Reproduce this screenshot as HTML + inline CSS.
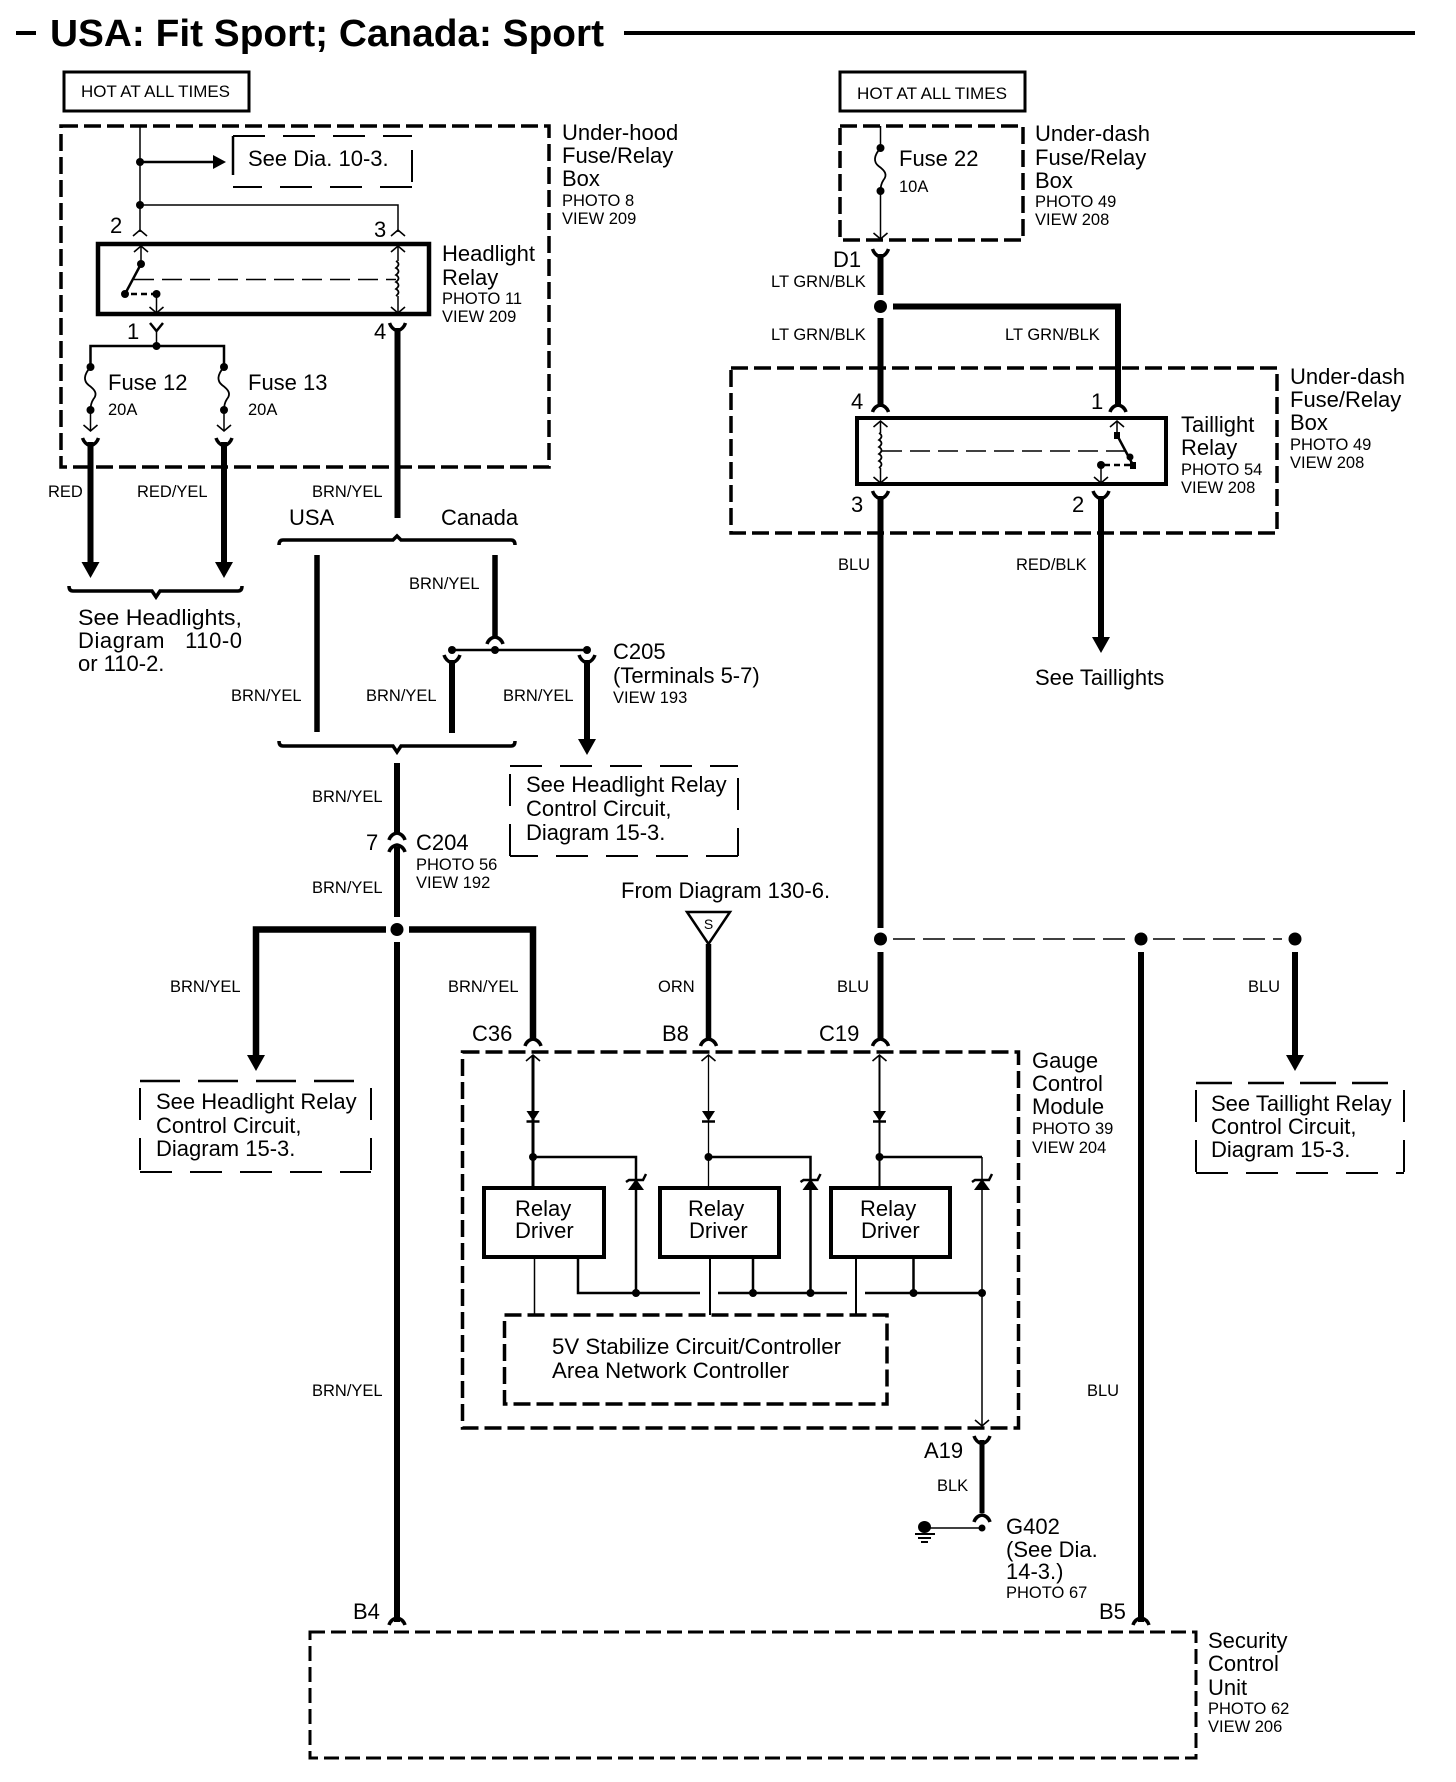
<!DOCTYPE html>
<html><head><meta charset="utf-8"><style>
html,body{margin:0;padding:0;background:#fff}
svg{display:block}
text{font-family:"Liberation Sans",sans-serif;fill:#000}
.b{font-size:22px}.s{font-size:16.5px}.h{font-size:17px}
.w{fill:none;stroke:#000;stroke-width:6}
.m{fill:none;stroke:#000;stroke-width:2.5}
.n{fill:none;stroke:#000;stroke-width:1.5}
.d{fill:none;stroke:#000;stroke-width:3.5;stroke-dasharray:17 6}
.l{fill:none;stroke:#000;stroke-width:2;stroke-dasharray:32 18}
</style></head><body>
<svg xmlns="http://www.w3.org/2000/svg" width="1456" height="1782" viewBox="0 0 1456 1782">
<defs>
<path id="cu" d="M-7,6 L0,0 L7,6" fill="none" stroke="#000" stroke-width="1.6"/>
<path id="cd" d="M-7,-6 L0,0 L7,-6" fill="none" stroke="#000" stroke-width="1.6"/>
<path id="tu" d="M-8,7 Q-6,1 0,0 Q6,1 8,7" fill="none" stroke="#000" stroke-width="3.5"/>
<path id="td" d="M-8,0 Q-6,6 0,8 Q6,6 8,0" fill="none" stroke="#000" stroke-width="3.5"/>
<path id="ah" d="M-9,-16 L9,-16 L0,0 Z" fill="#000"/>
<path id="fuse" d="M0,0 C-7,8 -7,14 -2,18 C5,23 7,27 3,32 C1,35 0,38 0,43" fill="none" stroke="#000" stroke-width="1.8"/>
<path id="coil" d="M0,0 q5,3 0,7 q5,3 0,7 q5,3 0,7 q5,3 0,7 q5,3 0,7" fill="none" stroke="#000" stroke-width="1.8"/>
<g id="diode"><path d="M-6.500,-10 L6.500,-10 L0,0 Z" fill="#000"/><path d="M-6.500,0.5 H6.500" stroke="#000" stroke-width="2.5"/></g>
<g id="zener"><path d="M-8,10 L8,10 L0,-1 Z" fill="#000"/><path d="M-10,2 L-7,0 H7 L10,-6" fill="none" stroke="#000" stroke-width="2.500"/></g>
</defs>

<!-- Title -->
<path d="M16,33 H36" stroke="#000" stroke-width="4"/>
<text x="50" y="46" font-size="38" font-weight="bold" textLength="554" lengthAdjust="spacingAndGlyphs">USA: Fit Sport; Canada: Sport</text>
<path d="M624,33 H1415" stroke="#000" stroke-width="4"/>

<!-- Top-left -->
<rect x="64" y="72" width="185" height="39" fill="none" stroke="#000" stroke-width="3"/>
<text class="h" x="81" y="97" textLength="149" lengthAdjust="spacingAndGlyphs">HOT AT ALL TIMES</text>
<rect class="d" x="61" y="126" width="488" height="341"/>
<path class="n" d="M140,126 V232"/>
<circle cx="140" cy="162" r="4"/><circle cx="140" cy="205" r="4"/>
<path class="m" d="M140,162 H215"/><path d="M213,155 L226,162 L213,169 Z"/>
<path class="m" d="M233,136 V175"/>
<path class="l" d="M233,136 H412 M412,150 V187 M412,187 H233"/>
<text class="b" x="248" y="166">See Dia. 10-3.</text>
<path class="n" d="M140,205 H398 V232"/>
<use href="#cu" x="140" y="230"/><use href="#cu" x="398" y="230"/>
<text x="110" y="233" font-size="22">2</text><text x="374" y="237" font-size="22">3</text>

<rect x="98" y="244" width="331" height="70" fill="none" stroke="#000" stroke-width="4.5"/>
<use href="#cu" x="141" y="246"/><use href="#cu" x="398" y="246"/>
<path class="n" d="M141,246 V264"/><circle cx="141" cy="264" r="4"/>
<path class="m" d="M141,264 L125,294"/><circle cx="125" cy="294" r="4"/>
<path class="m" stroke-dasharray="6 4" d="M131,294 H156"/><circle cx="156.500" cy="294" r="4"/>
<path class="n" d="M156.500,294 V313"/><use href="#cd" x="156.500" y="313"/>
<path class="n" stroke-dasharray="20 8" d="M134,279.500 H396"/>
<path class="n" d="M398,246 V261 M398,296 V313"/>
<use href="#coil" x="396" y="261"/><use href="#cd" x="398" y="313"/>
<text x="127" y="339" font-size="22">1</text><text x="374" y="339" font-size="22">4</text>
<path class="m" d="M150,323 L156.500,331 L163,323"/>
<path class="n" d="M156.500,331 V346"/>
<circle cx="156.500" cy="346" r="4"/>
<path class="m" d="M90.500,367 V346 H224 V367"/>
<circle cx="90.500" cy="367" r="4"/><circle cx="90.500" cy="410" r="4"/>
<circle cx="224" cy="367" r="4"/><circle cx="224" cy="410" r="4"/>
<use href="#fuse" x="90.500" y="367"/><use href="#fuse" x="224" y="367"/>
<path class="n" d="M90.500,410 V430 M224,410 V430"/>
<use href="#cd" x="90.500" y="431"/><use href="#cd" x="224" y="431"/>
<text class="b" x="108" y="390">Fuse 12</text><text class="b" x="248" y="390">Fuse 13</text>
<text class="s" x="108" y="415">20A</text><text class="s" x="248" y="415">20A</text>
<use href="#td" x="90.500" y="438"/><use href="#td" x="224" y="438"/>
<use href="#td" x="397.500" y="323"/>
<path class="w" d="M90.500,442 V565 M224,442 V565 M397.500,328 V518"/>
<use href="#ah" x="90.500" y="578"/><use href="#ah" x="224" y="578"/>
<text class="s" x="48" y="497">RED</text><text class="s" x="137" y="497">RED/YEL</text><text class="s" x="312" y="497">BRN/YEL</text>
<text class="b" x="289" y="525">USA</text><text class="b" x="441" y="525">Canada</text>
<text class="b" x="562" y="140">Under-hood</text><text class="b" x="562" y="163">Fuse/Relay</text><text class="b" x="562" y="186">Box</text>
<text class="s" x="562" y="206">PHOTO 8</text><text class="s" x="562" y="224">VIEW 209</text>
<text class="b" x="442" y="261">Headlight</text><text class="b" x="442" y="285">Relay</text>
<text class="s" x="442" y="304">PHOTO 11</text><text class="s" x="442" y="322">VIEW 209</text>

<!-- braces -->
<path fill="none" stroke="#000" stroke-width="3.5" d="M279,545 Q279,540 283,540 H393 L397,536 L401,540 H511 Q515,540 515,545"/>
<path fill="none" stroke="#000" stroke-width="3.500" d="M69,586 Q69,591 73,591 H152 L156,597 L160,591 H238 Q242,591 242,586"/>
<path fill="none" stroke="#000" stroke-width="3.500" d="M279,741 Q279,746 283,746 H393 L397,752 L401,746 H511 Q515,746 515,741"/>
<text class="b" x="78" y="625" textLength="164" lengthAdjust="spacingAndGlyphs">See Headlights,</text><text class="b" x="78" y="648" xml:space="preserve" textLength="164" lengthAdjust="spacing">Diagram   110-0</text><text class="b" x="78" y="671">or 110-2.</text>

<!-- USA/Canada -->
<path d="M317,555 V732 M495,555 V636" fill="none" stroke="#000" stroke-width="5.500"/>
<use href="#tu" x="495" y="637"/>
<path class="m" d="M452,650 H587"/>
<circle cx="452" cy="650" r="4"/><circle cx="495" cy="650" r="4"/><circle cx="587" cy="650" r="4"/>
<use href="#td" x="452" y="655"/><use href="#td" x="587" y="655"/>
<path class="w" d="M452,660 V733 M587,660 V742"/>
<use href="#ah" x="587" y="755"/>
<text class="s" x="409" y="589">BRN/YEL</text>
<text class="s" x="231" y="701">BRN/YEL</text><text class="s" x="366" y="701">BRN/YEL</text><text class="s" x="503" y="701">BRN/YEL</text>
<text class="b" x="613" y="659">C205</text><text class="b" x="613" y="683">(Terminals 5-7)</text><text class="s" x="613" y="703">VIEW 193</text>

<!-- See Headlight Relay boxes -->
<path class="l" d="M510,766 H738 M738,778 V856 M738,856 H510 M510,856 V773"/>
<text class="b" x="526" y="792">See Headlight Relay</text><text class="b" x="526" y="816">Control Circuit,</text><text class="b" x="526" y="840">Diagram 15-3.</text>
<path d="M140,1081 H371" fill="none" stroke="#000" stroke-width="2.500" stroke-dasharray="40 18"/>
<path class="l" d="M140,1172 H371 M371,1088 V1172 M140,1088 V1172"/>
<text class="b" x="156" y="1109">See Headlight Relay</text><text class="b" x="156" y="1133">Control Circuit,</text><text class="b" x="156" y="1156">Diagram 15-3.</text>

<!-- C204 -->
<path class="w" d="M397,763 V833 M397,847 V917 M397,942 V1622"/>
<use href="#tu" x="397" y="833"/><use href="#tu" x="397" y="845"/>
<text x="366" y="850" font-size="22">7</text>
<text class="b" x="416" y="850">C204</text><text class="s" x="416" y="870">PHOTO 56</text><text class="s" x="416" y="888">VIEW 192</text>
<text class="s" x="312" y="802">BRN/YEL</text><text class="s" x="312" y="893">BRN/YEL</text>
<circle cx="397" cy="929.500" r="6.500"/>
<path stroke="#000" stroke-width="6.500" fill="none" d="M386,929.500 H256 V1058 M409,929.500 H533 V1040"/>
<use href="#ah" x="256" y="1071"/><use href="#tu" x="533" y="1039"/>
<text class="s" x="170" y="992">BRN/YEL</text><text class="s" x="448" y="992">BRN/YEL</text><text class="s" x="658" y="992">ORN</text>
<text class="s" x="837" y="992">BLU</text><text class="s" x="1248" y="992">BLU</text>
<text class="b" x="472" y="1041">C36</text><text class="b" x="662" y="1041">B8</text><text class="b" x="819" y="1041">C19</text>

<!-- From Diagram -->
<text class="b" x="621" y="898">From Diagram 130-6.</text>
<path d="M687,912 H730 L708.500,944 Z" fill="#fff" stroke="#000" stroke-width="2.500"/>
<text x="708.500" y="929" font-size="14" text-anchor="middle">S</text>
<path stroke="#000" stroke-width="5.500" fill="none" d="M708.500,944 V1040"/>
<use href="#tu" x="708.500" y="1039"/>

<!-- Gauge -->
<rect class="d" x="462.500" y="1052" width="556" height="376"/>
<use href="#cu" x="533" y="1055"/><use href="#cu" x="708.500" y="1055"/><use href="#cu" x="879.500" y="1055"/>
<path stroke="#000" stroke-width="3" fill="none" d="M533,1055 V1187"/>
<path stroke="#000" stroke-width="1.300" fill="none" d="M708.500,1055 V1187"/>
<path stroke="#000" stroke-width="2" fill="none" d="M879.500,1055 V1187"/>
<use href="#diode" x="533" y="1121"/><use href="#diode" x="708.500" y="1121"/><use href="#diode" x="879.500" y="1121"/>
<circle cx="533" cy="1157" r="4"/><circle cx="708.500" cy="1157" r="4"/><circle cx="879.500" cy="1157" r="4"/>
<path class="m" d="M533,1157 H636 V1293 M708.500,1157 H810.500 V1293 M879.500,1157 H982"/>
<path class="n" d="M982,1157 V1426"/>
<use href="#zener" x="636" y="1180"/><use href="#zener" x="810.500" y="1180"/><use href="#zener" x="982" y="1180"/>
<rect x="484" y="1188" width="120" height="69" fill="#fff" stroke="#000" stroke-width="4"/>
<rect x="660" y="1188" width="119" height="69" fill="#fff" stroke="#000" stroke-width="4"/>
<rect x="831" y="1188" width="119" height="69" fill="#fff" stroke="#000" stroke-width="4"/>
<text class="b" x="515" y="1216">Relay</text><text class="b" x="515" y="1238">Driver</text>
<text class="b" x="688" y="1216">Relay</text><text class="b" x="689" y="1238">Driver</text>
<text class="b" x="860" y="1216">Relay</text><text class="b" x="861" y="1238">Driver</text>
<path class="n" d="M534.500,1257 V1315"/>
<path class="m" d="M578,1257 V1293 H700 M718,1293 H847 M865,1293 H982 M753,1257 V1293 M913.500,1257 V1293"/>
<path stroke="#000" stroke-width="2" fill="none" d="M710,1257 V1315 M856,1257 V1315"/>
<circle cx="636" cy="1293" r="4"/><circle cx="753" cy="1293" r="4"/><circle cx="810.500" cy="1293" r="4"/><circle cx="913.500" cy="1293" r="4"/><circle cx="982" cy="1293" r="4"/>
<use href="#cd" x="982" y="1426"/>
<rect class="d" x="504.500" y="1315" width="382.500" height="89"/>
<text class="b" x="552" y="1354" textLength="289" lengthAdjust="spacingAndGlyphs">5V Stabilize Circuit/Controller</text>
<text class="b" x="552" y="1378" textLength="237" lengthAdjust="spacingAndGlyphs">Area Network Controller</text>
<text class="b" x="1032" y="1068">Gauge</text><text class="b" x="1032" y="1091">Control</text><text class="b" x="1032" y="1114">Module</text>
<text class="s" x="1032" y="1134">PHOTO 39</text><text class="s" x="1032" y="1153">VIEW 204</text>

<!-- A19/G402 -->
<use href="#td" x="982" y="1436"/>
<path stroke="#000" stroke-width="5" fill="none" d="M982,1440 V1513"/>
<use href="#tu" x="982" y="1515"/>
<circle cx="982" cy="1528" r="3.500"/>
<path class="n" d="M925,1528 H982"/>
<ellipse cx="924.500" cy="1527" rx="6.500" ry="6"/>
<path stroke="#000" stroke-width="2" fill="none" d="M915,1534 H935 M918,1538 H931 M921,1542 H928"/>
<text class="b" x="924" y="1458">A19</text><text class="s" x="937" y="1491">BLK</text>
<text class="b" x="1006" y="1534">G402</text><text class="b" x="1006" y="1557">(See Dia.</text><text class="b" x="1006" y="1579">14-3.)</text><text class="s" x="1006" y="1598">PHOTO 67</text>

<!-- Security -->
<text class="b" x="353" y="1619">B4</text><text class="b" x="1099" y="1619">B5</text>
<use href="#tu" x="397" y="1618"/><use href="#tu" x="1141" y="1618"/>
<rect fill="none" stroke="#000" stroke-width="3" stroke-dasharray="15 6" x="310" y="1632" width="886" height="126"/>
<text class="b" x="1208" y="1648">Security</text><text class="b" x="1208" y="1671">Control</text><text class="b" x="1208" y="1695">Unit</text>
<text class="s" x="1208" y="1714">PHOTO 62</text><text class="s" x="1208" y="1732">VIEW 206</text>
<text class="s" x="312" y="1396">BRN/YEL</text><text class="s" x="1087" y="1396">BLU</text>

<!-- Top-right -->
<rect x="840" y="72" width="185" height="39" fill="none" stroke="#000" stroke-width="3"/>
<text class="h" x="857" y="99" textLength="150" lengthAdjust="spacingAndGlyphs">HOT AT ALL TIMES</text>
<rect class="d" x="840" y="126" width="183" height="114"/>
<path class="n" d="M880.500,126 V148 M880.500,191 V238"/>
<circle cx="880.500" cy="148" r="4"/><circle cx="880.500" cy="191" r="4"/>
<use href="#fuse" x="880.500" y="148"/><use href="#cd" x="880.500" y="239"/>
<text class="b" x="899" y="166">Fuse 22</text><text class="s" x="899" y="192">10A</text>
<text class="b" x="1035" y="141">Under-dash</text><text class="b" x="1035" y="165">Fuse/Relay</text><text class="b" x="1035" y="188">Box</text>
<text class="s" x="1035" y="207">PHOTO 49</text><text class="s" x="1035" y="225">VIEW 208</text>
<use href="#td" x="880.500" y="249"/>
<path class="w" d="M880.500,254 V295 M880.500,318 V407 M893,306.500 H1118 V407"/>
<text x="833" y="267" font-size="22">D1</text>
<text class="s" x="771" y="287">LT GRN/BLK</text><text class="s" x="771" y="340">LT GRN/BLK</text><text class="s" x="1005" y="340">LT GRN/BLK</text>
<circle cx="880.500" cy="306.500" r="6.500"/>
<rect class="d" x="731" y="368" width="546" height="165"/>
<use href="#tu" x="880.500" y="405"/><use href="#tu" x="1118" y="405"/>
<text x="851" y="409" font-size="22">4</text><text x="1091" y="409" font-size="22">1</text>
<rect x="857" y="418" width="309" height="66" fill="#fff" stroke="#000" stroke-width="4"/>
<use href="#cu" x="880.500" y="421"/><use href="#cu" x="1117" y="421"/><use href="#cd" x="880.500" y="483"/><use href="#cd" x="1101" y="483"/>
<path class="n" d="M880.500,421 V433 M880.500,468 V483 M1117,421 V435 M1101,465 V483"/>
<use href="#coil" x="879" y="433"/>
<path class="n" stroke-dasharray="20 8" d="M882,451 H1130"/>
<rect x="1114" y="432" width="6" height="7"/>
<path class="m" d="M1117,435 L1133,465"/>
<circle cx="1130" cy="457" r="3.500"/><rect x="1130" y="462" width="6" height="7"/>
<path class="m" stroke-dasharray="6 4" d="M1130,465 H1102"/><circle cx="1101" cy="465" r="4"/>
<use href="#td" x="880.500" y="491"/><use href="#td" x="1101" y="491"/>
<text x="851" y="512" font-size="22">3</text><text x="1072" y="512" font-size="22">2</text>
<path class="w" d="M880.500,496 V928 M880.500,952 V1040 M1101,496 V640 M1141,952 V1622 M1295,952 V1057"/>
<use href="#ah" x="1101" y="653"/><use href="#ah" x="1295" y="1071"/>
<use href="#tu" x="880.500" y="1039"/>
<text class="s" x="838" y="570">BLU</text><text class="s" x="1016" y="570">RED/BLK</text>
<text class="b" x="1181" y="432">Taillight</text><text class="b" x="1181" y="455">Relay</text><text class="s" x="1181" y="475">PHOTO 54</text><text class="s" x="1181" y="493">VIEW 208</text>
<text class="b" x="1290" y="384">Under-dash</text><text class="b" x="1290" y="407">Fuse/Relay</text><text class="b" x="1290" y="430">Box</text><text class="s" x="1290" y="450">PHOTO 49</text><text class="s" x="1290" y="468">VIEW 208</text>
<text class="b" x="1035" y="685">See Taillights</text>
<circle cx="880.500" cy="939" r="6.500"/><circle cx="1141" cy="939" r="6.500"/><circle cx="1295" cy="939" r="6.500"/>
<path stroke="#000" stroke-width="1.500" fill="none" stroke-dasharray="22 8" d="M893,939 H1128 M1153,939 H1282"/>
<path class="l" d="M1196,1173 H1404 M1196,1090 V1173 M1404,1090 V1173"/>
<path d="M1196,1083 H1404" fill="none" stroke="#000" stroke-width="2.500" stroke-dasharray="36 16"/>
<text class="b" x="1211" y="1111">See Taillight Relay</text><text class="b" x="1211" y="1134">Control Circuit,</text><text class="b" x="1211" y="1157">Diagram 15-3.</text>
</svg>
</body></html>
